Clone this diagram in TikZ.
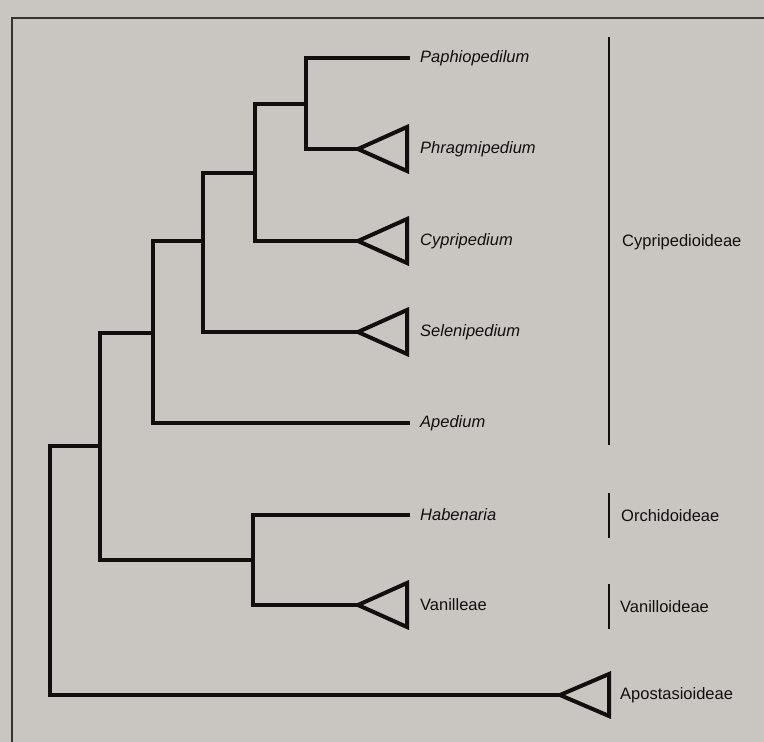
\documentclass[tikz,border=0pt]{standalone}
\usepackage{fontspec}
\setmainfont{Liberation Sans}
\definecolor{bg}{RGB}{201,198,194}
\definecolor{ink}{RGB}{18,14,14}
\begin{document}
\begin{tikzpicture}[x=1pt,y=-1pt,
  branch/.style={draw=ink,line width=4.8pt,line join=miter,line cap=rect},
  clade/.style={draw=ink,line width=4pt,line join=miter},
  bar/.style={draw=ink,line width=2.7pt},
  frame/.style={draw=ink!85,line width=1.4pt},
  taxon/.style={anchor=west,inner sep=0pt,font=\fontsize{16.5}{19}\selectfont\itshape,text=ink},
  group/.style={anchor=west,inner sep=0pt,font=\fontsize{16.5}{19}\selectfont,text=ink}]
\fill[bg] (0,0) rectangle (764,742);
\useasboundingbox (0,0) rectangle (764,742);
\draw[frame] (764,18) -- (12,18) -- (12,742);
% tips
\coordinate (tPaph) at (408,58);
\coordinate (tPhrag) at (358,149);
\coordinate (tCyp) at (358,241);
\coordinate (tSel) at (358,332);
\coordinate (tApe) at (408,423);
\coordinate (tHab) at (408,515);
\coordinate (tVan) at (358,605);
\coordinate (tApo) at (560,695);
% internal nodes (stem points)
\coordinate (nA) at (306,104);
\coordinate (nB) at (255,173);
\coordinate (nC) at (203,241);
\coordinate (nD) at (153,333);
\coordinate (nE) at (253,560);
\coordinate (nF) at (100,446);
% branches
\draw[branch] (tPaph) -| (nA) |- (tPhrag);
\draw[branch] (nA) -| (nB) |- (tCyp);
\draw[branch] (nB) -| (nC) |- (tSel);
\draw[branch] (nC) -| (nD) |- (tApe);
\draw[branch] (tHab) -| (nE) |- (tVan);
\draw[branch] (nD) -| (nF) |- (nE);
\draw[branch] (nF) -| (50,695) -- (tApo);
% collapsed clades
\foreach \t in {tPhrag,tCyp,tSel,tVan}
  \draw[clade] (\t) -- ++(49,-22) -- ++(0,44) -- cycle;
\draw[clade] (tApo) -- ++(49,-21) -- ++(0,42) -- cycle;
% taxon labels
\node[taxon] (Paph) at (420,58) {Paphiopedilum};
\node[taxon] (Phrag) at (420,149) {Phragmipedium};
\node[taxon] (Cyp) at (420,241) {Cypripedium};
\node[taxon] (Sel) at (420,332) {Selenipedium};
\node[taxon] (Ape) at (420,423) {Apedium};
\node[taxon] (Hab) at (420,515) {Habenaria};
\node[group] (Van) at (420,605) {Vanilleae};
% subfamily bars and labels
\draw[bar] (609,37) -- (609,445);
\draw[bar] (609,493) -- (609,538);
\draw[bar] (609,584) -- (609,629);
\node[group] (Cypg) at (622,242) {Cypripedioideae};
\node[group] (Orch) at (621,516) {Orchidoideae};
\node[group] (Vang) at (620,607) {Vanilloideae};
\node[group] (Apo) at (620,695) {Apostasioideae};
\end{tikzpicture}
\end{document}
